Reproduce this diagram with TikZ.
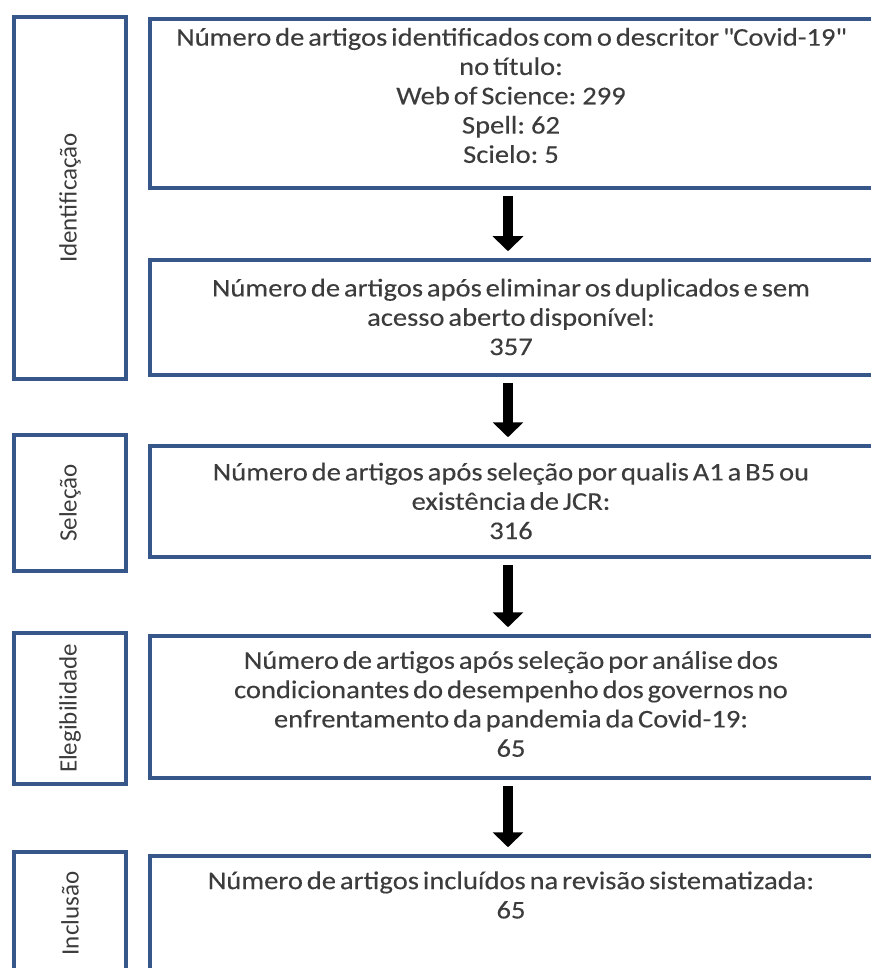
\documentclass[tikz,border=0pt]{standalone}
\usepackage{fontspec}
\setmainfont{Carlito}
\newfontfamily\boxfont{Carlito}[FakeStretch=1.12,WordSpace=0.6,FakeBold=0.2]
\usetikzlibrary{arrows.meta}
\definecolor{frame}{RGB}{55,86,138}
\definecolor{ink}{RGB}{60,60,60}
\tikzset{
  stage/.style={draw=frame,line width=3.5pt,minimum width=112pt,minimum height=#1,inner sep=0pt,
    text=ink,font=\fontsize{25}{28}\selectfont},
  box/.style={draw=frame,line width=3.5pt,minimum width=724pt,minimum height=#1,inner sep=0pt},
  txt/.style={text=ink,font=\boxfont\fontsize{25.5}{29.3}\selectfont,align=center,inner sep=0pt},
  flow/.style={-{Triangle[length=15pt,width=30pt]},line width=10pt,black,
    shorten <=6pt,shorten >=7pt},
}
\begin{document}
\begin{tikzpicture}[x=1pt,y=-1pt]
  \useasboundingbox (0,0) rectangle (870,968);
  % stages on the left
  \foreach \n/\y/\h/\t in {1/198/362/Identificação,2/503/136/Seleção,
    3/708.5/151/Elegibilidade,4/913.5/123/Inclusão}
    \node[stage=\h pt] (s\n) at (70,\y) {\rotatebox{90}{\t}};
  % boxes
  \node[box=169pt] (b1) at (512,103.5) {};
  \node[box=115pt] (b2) at (512,317.5) {};
  \node[box=111pt] (b3) at (512,501.5) {};
  \node[box=142pt] (b4) at (512,707) {};
  \node[box=119pt] (b5) at (512,915.5) {};
  \node[txt] (t1) at (511,95.5) {Número de artigos identificados com o descritor \textquotedbl Covid-19\textquotedbl\\
    no título:\\ Web of Science: 299\\ Spell: 62\\ Scielo: 5};
  \node[txt] (t2) at (511,317) {Número de artigos após eliminar os duplicados e sem\\
    acesso aberto disponível:\\ 357};
  \node[txt] (t3) at (511,501) {Número de artigos após seleção por qualis A1 a B5 ou\\
    existência de JCR:\\ 316};
  \node[txt] (t4) at (511,704) {Número de artigos após seleção por análise dos\\
    condicionantes do desempenho dos governos no\\
    enfrentamento da pandemia da Covid-19:\\ 65};
  \node[txt] (t5) at (511,895) {Número de artigos incluídos na revisão sistematizada:\\ 65};
  % arrows
  \foreach \a/\b in {b1/b2,b2/b3,b3/b4,b4/b5}
    \draw[flow] ([xshift=-4pt]\a.south) -- ([xshift=-4pt]\b.north);
\end{tikzpicture}
\end{document}
